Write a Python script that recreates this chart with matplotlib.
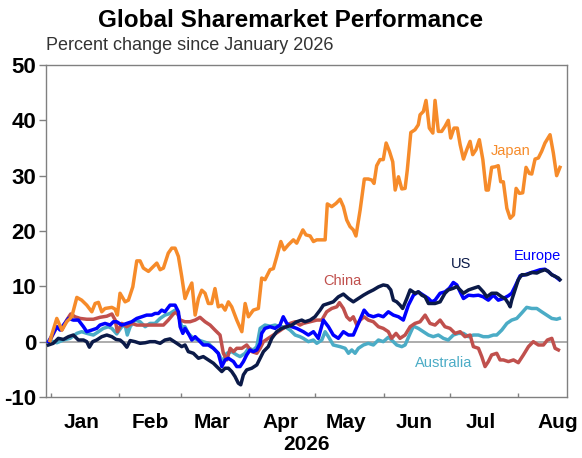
import matplotlib
matplotlib.use("Agg")
import matplotlib.pyplot as plt
import pandas as pd
import numpy as np

# ---------------- data (days since 1 Jan 2026, percent change) ----------------
japan_days = [-0.5, 2.6, 4.9, 7.1, 9.4, 11.7, 13.9, 16.2, 18.5, 20, 21.5, 23, 24.5, 27.6, 29, 30.1,
              31.3, 33.6, 35.1, 37.1, 38.9, 40.4, 41.9, 44.2, 45.7, 48, 49.5, 51, 53.2, 54.8, 56.3,
              57.8, 59.3, 60.8, 62.3, 63.9, 65.4, 66.9, 68.4, 69.9, 71.4, 72.9, 74.4, 75.9, 77.5,
              79, 80.5, 82, 84.3, 86.6, 88.1, 89.6, 91.8, 94.1, 95.6, 97.1, 99.4, 100.9, 102.4,
              104.3, 105.8, 107.7, 110, 111.5, 114.3, 115.7, 117.6, 119.1, 120.6, 124.4, 125.4,
              127.4, 129.4, 131.2, 132.7, 134.2, 135.7, 137.2, 138.4, 140.3, 142.2, 144, 145.6,
              146.6, 147.8, 149.3, 150.8, 152.1, 153.6, 155.1, 156.2, 157.7, 159.2, 160.7, 161.7,
              163.3, 165.2, 166.7, 167.5, 169, 170.2, 171.7, 173.3, 174.3, 175.8, 177.3, 178.8,
              180.3, 181.4, 182.9, 184.4, 185.7, 187.2, 188.7, 190.2, 191.4, 192.9, 194.4, 196,
              197.5, 198.5, 200, 201.5, 203, 204.1, 205.3, 206.9, 208.4, 209.9, 211.1, 212.6,
              214.1, 215.6, 217.1, 218.2, 219.7, 221.2, 222.7, 224.2, 226.5, 228, 229.5, 231]
japan_vals = [0.2, 4.2, 2.1, 3.6, 4.5, 8.0, 7.5, 6.6, 5.4, 6.9, 7.1, 5.4, 6.0, 6.2, 5.9, 4.8,
              8.75, 7.2, 7.5, 9.9, 14.6, 14.6, 13.3, 12.7, 13.3, 14.2, 13.0, 13.3, 16.0, 16.9, 16.9,
              15.4, 11.8, 7.8, 9.3, 10.6, 4.8, 7.8, 9.3, 8.75, 6.9, 6.9, 9.6, 6.3, 6.6,
              5.7, 7.2, 6.3, 3.9, 1.8, 6.9, 4.5, 5.7, 6.0, 11.5, 11.2, 13.0, 13.2, 15.3,
              18.1, 16.6, 17.5, 18.4, 17.8, 20.2, 19.3, 19.1, 18.1, 18.4, 18.4, 24.9,
              24.4, 25.0, 25.75, 24.4, 22.0, 20.8, 20.2, 19.1, 23.8, 29.4, 29.4, 29.2,
              28.6, 31.8, 32.9, 32.9, 35.9, 34.4, 32.5, 27.4, 29.8, 27.6, 27.7, 31.0,
              37.8, 38.3, 39.2, 41.0, 41.6, 43.6, 38.6, 37.7, 43.6, 38.0, 38.0, 38.9,
              40.0, 36.8, 38.6, 38.6, 35.6, 33.0, 34.7, 36.2, 33.8, 34.7, 36.5, 32.9,
              27.4, 27.4, 31.5, 31.6, 31.8, 28.9, 28.9, 24.1, 22.3, 22.9, 27.7, 26.8,
              26.9, 31.5, 30.4, 30.3, 33.0, 33.2, 34.4, 35.9, 37.4, 34.1, 30.0, 31.5]

us_days = [-1.2, 1, 3.3, 5.6, 7.9, 10.1, 12.4, 14.7, 16.2, 17.4, 18.9, 20.7, 23, 25.3, 27.6, 29.5,
           31.3, 32.8, 34.4, 35.9, 38.1, 40.4, 42.7, 44.9, 47.2, 49.5, 51.7, 54, 57.1, 59.3, 60.8,
           62.3, 64.6, 66.9, 69.1, 71.4, 73.7, 75.2, 77.5, 79, 80.5, 82, 83.5, 85, 86.1, 87.3,
           88.8, 91.1, 93.4, 94.9, 96.4, 98.6, 100.2, 102.4, 104.7, 107, 109.3, 111.5, 113.8,
           115.3, 117.6, 119.8, 122.1, 123.6, 125.9, 128.1, 130.4, 132.7, 135, 137.2, 139.5,
           141.8, 144, 146.3, 148.6, 150.8, 152.7, 154.2, 155.4, 156.9, 158.4, 159.6, 161.5,
           163, 165.2, 166.7, 168.3, 169.8, 171.3, 174.3, 176.6, 178.8, 180.3, 182.6, 184.2,
           185.7, 187.2, 189.5, 191.7, 194, 196.2, 197.8, 200, 202.3, 204.6, 206.1, 207.6,
           208.4, 209.1, 210.6, 212.1, 213.7, 215.9, 218.2, 220.5, 222, 224.2, 225.7, 227.3,
           228.8, 230.3, 231]
us_vals = [-0.6, -0.3, 0.6, 0.4, 0.9, 1.2, 0.3, 0.3, 0.0, -1.0, 0.0, 0.3, 0.9, 1.2, 0.9, 0.4,
           0.3, -0.2, -1.0, 0.2, 0.0, -0.3, -0.2, 0.0, 0.0, -0.3, 0.3, 0.5, -0.3, -0.9, -0.6,
           -1.8, -2.1, -3.0, -2.7, -3.3, -3.9, -4.5, -5.4, -4.8, -4.8, -5.4, -6.3, -7.5, -7.8, -6.0,
           -5.1, -4.8, -4.2, -3.0, -1.8, -0.9, 0.6, 1.8, 2.4, 2.7, 3.0, 3.6, 3.9,
           3.6, 3.9, 4.5, 5.7, 6.6, 6.9, 7.2, 8.1, 8.6, 7.8, 7.2, 7.8,
           8.4, 8.9, 9.35, 9.9, 10.25, 10.1, 9.35, 7.5, 7.2, 6.6, 6.0, 7.8,
           9.35, 8.75, 9.0, 8.4, 8.1, 6.9, 6.9, 7.2, 8.75, 9.35, 9.65, 9.95,
           9.35, 8.75, 9.35, 9.65, 9.95, 9.0, 8.1, 8.75, 8.75, 8.1, 7.8, 6.9,
           6.3, 7.5, 9.35, 11.2, 12.1, 12.1, 12.5, 12.4, 12.7, 13.0, 12.7, 12.1,
           11.8, 11.5, 11.2]

europe_days = [-1.2, 1, 2.6, 4.1, 5.6, 7.9, 10.1, 12.4, 14.7, 16.2, 18.5, 20.7, 22.2, 24.5, 26.8,
               28.3, 29.8, 32.1, 34.4, 36.6, 38.9, 41.2, 43.4, 45.7, 47.2, 48.7, 50.2, 51.7, 54,
               56.3, 57.8, 58.6, 59.8, 60.8, 62.3, 63.9, 65.4, 66.9, 69.1, 71.4, 73.7, 75.9, 77.5,
               79, 80.5, 82.8, 84.3, 85.8, 87.3, 88.8, 90.3, 91.8, 93.4, 94.9, 95.6, 97.1, 99.4,
               101.7, 103.9, 105.4, 107, 109.3, 111.5, 113, 114.5, 116.8, 119.1, 121.3, 123.6,
               125.9, 128.1, 130.4, 132.7, 135, 137.2, 139.5, 142.1, 144, 146.3, 148.6, 150.8,
               153.1, 155.4, 157.7, 159.9, 162.2, 164.5, 166.7, 169, 171.3, 172.8, 174.3, 176.6,
               178.8, 180.8, 182.6, 184.2, 185.7, 187.2, 189.5, 191.7, 194, 196.2, 198.5, 200.8,
               203, 205.3, 207.6, 209.1, 210.6, 212.9, 215.2, 217.4, 219.7, 222, 224.2, 225.7,
               227.3, 228.8, 230.7]
europe_vals = [0.0, 1.5, 2.7, 2.1, 3.0, 4.2, 3.9, 3.9, 2.7, 1.8, 2.1, 2.4, 3.0, 3.3, 3.0,
               3.6, 3.6, 3.0, 3.3, 3.6, 4.2, 4.5, 4.8, 4.8, 5.1, 5.1, 5.7, 5.4, 6.6,
               6.6, 5.4, 2.7, 1.5, 2.4, 1.5, 0.3, 0.9, 0.3, -0.6, -0.6, -1.2, -2.1, -4.5,
               -3.3, -3.0, -3.6, -4.5, -4.5, -3.6, -2.4, -1.5, -1.8, -1.5, -0.3, 1.5, 2.4, 2.7,
               2.4, 3.0, 4.5, 3.3, 2.7, 2.4, 2.1, 1.8, 1.2, 1.8, 0.6, 3.9,
               2.7, 1.2, 0.6, 1.8, 1.2, 1.2, 3.3, 5.7, 4.8, 4.5, 4.8, 4.5,
               5.4, 4.8, 4.5, 3.9, 6.6, 8.4, 9.0, 8.4, 7.8, 7.2, 7.5, 8.75,
               9.0, 9.65, 10.7, 10.25, 9.0, 7.8, 8.4, 8.3, 8.4, 8.1, 7.5, 8.4,
               7.5, 7.8, 8.3, 8.75, 9.95, 11.9, 12.1, 12.4, 12.7, 13.0, 13.1, 12.7,
               12.1, 11.8, 11.2]

china_days = [-0.5, 2.6, 4.9, 7.1, 8.9, 10.9, 13.2, 16.2, 19.2, 22.2, 25.3, 27.6, 29.1, 30.1, 32.1,
              34.4, 36.6, 38.9, 41.9, 44.9, 48, 51, 53.2, 55.5, 57.1, 58.6, 60.8, 63.1, 65.4, 67.6,
              69.9, 72.2, 74.4, 76.7, 78.2, 79.8, 81.3, 82.8, 84.3, 86.6, 88.8, 91.1, 93.4, 94.9,
              96.4, 98.6, 100.9, 103.2, 105.4, 108.5, 110.8, 113, 114.5, 117.6, 120.6, 122.9,
              125.1, 127.4, 129.7, 130.9, 132.7, 134.2, 135.7, 137.2, 138.8, 140.3, 142.1, 144,
              146.3, 148.6, 150.8, 153.1, 154.6, 156.6, 158.4, 160.7, 163, 165.2, 167.5, 169.8,
              172, 174.3, 176.6, 178.8, 181.1, 183.4, 185.7, 187.9, 190.2, 191.7, 194, 195.5, 197,
              198.5, 200, 202.3, 203.8, 205.3, 207.6, 209.9, 212.1, 214.4, 216.7, 218.9, 221.2,
              223.5, 225.3, 227.3, 228.8, 230.3]
china_vals = [0.2, 2.7, 2.1, 3.9, 5.0, 4.5, 4.2, 4.05, 4.05, 4.4, 4.6, 5.0, 3.9, 1.8, 3.3,
              2.7, 3.3, 3.0, 3.0, 3.0, 3.0, 3.0, 3.9, 5.0, 5.4, 3.9, 3.6, 3.6, 3.9, 4.4,
              3.6, 3.0, 2.1, 1.2, -2.1, -3.3, -1.2, -1.8, -1.2, -1.2, -0.6, -1.8, -2.1, -1.2,
              0.0, 0.6, 1.2, 1.8, 2.4, 3.3, 3.6, 3.0, 3.3, 3.6, 3.9, 3.9,
              5.4, 6.0, 6.3, 7.05, 6.0, 4.5, 3.9, 4.5, 3.0, 3.9, 4.5, 3.9,
              3.6, 2.7, 2.4, 1.8, 0.6, 1.5, 0.6, 1.2, 2.7, 3.3, 3.6, 4.8,
              3.3, 3.0, 3.9, 2.7, 2.4, 1.5, 1.8, 0.9, 1.2, -0.9, -1.2, -2.7, -4.5,
              -3.6, -2.4, -2.1, -3.3, -3.3, -3.6, -3.3, -3.8, -2.4, -0.9, 0.0, -0.6,
              -0.6, 0.3, 0.6, -1.2, -1.5]

aus_days = [-0.5, 2.6, 5.6, 8.6, 11.7, 13.9, 16.2, 19.2, 21.5, 23.7, 26, 27.6, 29.8, 32.1, 33.6,
            34.6, 35.9, 38.1, 40.4, 42.7, 44.9, 47.2, 49.5, 51.7, 54, 56.3, 57.8, 59.3, 60.8, 62.3,
            64.6, 66.9, 69.1, 71.4, 73.7, 75.9, 77.9, 79.8, 82, 84.3, 85.8, 88.1, 89.6, 91.8, 93.4,
            94.9, 97.1, 99.4, 101.7, 103.9, 106.2, 108.5, 110.8, 113, 114.5, 116.8, 119.1, 120.6,
            122.9, 124.4, 125.9, 128.1, 131.2, 133.5, 135, 136.5, 138, 139.5, 141.8, 144, 146.3,
            148.6, 150.8, 153.1, 154.6, 156.9, 159.2, 160.7, 163, 164.5, 166.7, 169, 171.3, 173.5,
            175.8, 178.1, 180.3, 182.6, 184.9, 187.2, 189.5, 191.7, 194, 196.2, 198.5, 200.8,
            202.3, 204.6, 206.9, 209.1, 211.4, 213.7, 215.9, 218.2, 220.5, 222.7, 225, 227.3,
            229.5, 230.7]
aus_vals = [0.2, -0.2, 0.3, 0.6, 1.5, 1.8, 1.5, 1.2, 1.8, 2.4, 2.7, 2.4, 1.4, 2.7, 3.0,
            1.2, 2.7, 3.9, 3.6, 2.7, 3.3, 3.3, 4.2, 4.8, 5.1, 5.7, 4.8, 2.7, 2.7, 1.5,
            0.6, 0.3, 0.0, -0.3, -1.2, -2.1, -3.6, -2.1, -1.8, -2.4, -2.7, -2.1, -1.2, -1.5, -0.9,
            2.4, 3.0, 2.8, 3.0, 2.7, 2.7, 2.1, 1.2, 0.9, 0.6, 0.0, 0.3, -0.3,
            0.3, 1.8, 0.9, -0.6, -0.9, -1.2, -2.1, -1.5, -2.1, -1.2, -0.6, -0.3, -0.6,
            0.3, 0.0, 0.8, 0.3, -0.6, -0.9, -0.6, 1.5, 2.8, 2.4, 1.8, 1.2, 0.9,
            1.2, 0.6, 0.3, 1.2, 1.5, 1.5, 0.9, 1.2, 1.2, 0.9, 0.9, 1.2,
            1.2, 2.1, 3.3, 3.9, 4.2, 5.2, 6.2, 6.0, 6.0, 5.4, 4.8, 4.2,
            4.05, 4.2]

month_labels = ["Jan", "Feb", "Mar", "Apr", "May", "Jun", "Jul", "Aug"]
y_ticks = [-10, 0, 10, 20, 30, 40, 50]

# ---------------- plotting ----------------
plt.rcParams['font.family'] = ['Liberation Sans', 'DejaVu Sans']
base = pd.Timestamp("2026-01-01")

def to_dates(days):
    return base + pd.to_timedelta(np.asarray(days, dtype=float), unit="D")

fig = plt.figure(figsize=(5.82, 4.58), dpi=100)
ax = fig.add_axes([46/582, 1-397/458, (567-46)/582, (397-65)/458])

ax.axhline(0, color="#A6A6A6", lw=1.3, zorder=1)

series = [
    ("Australia", aus_days, aus_vals, "#4BACC6"),
    ("China", china_days, china_vals, "#C0504D"),
    ("Europe", europe_days, europe_vals, "#0000FF"),
    ("US", us_days, us_vals, "#0B1A48"),
    ("Japan", japan_days, japan_vals, "#F68B2A"),
]
for i, (name, d, v, c) in enumerate(series):
    ax.plot(to_dates(d), v, color=c, lw=2.5, solid_joinstyle="round", zorder=2 + i)

# series labels
lab_pos = {
    "Japan": (208.4, 34.5),
    "Europe": (220.8, 15.5),
    "US": (186.1, 14.0),
    "China": (132.1, 11.0),
    "Australia": (178.4, -3.8),
}
for name, d, v, c in series:
    dx, vy = lab_pos[name]
    ax.text(base + pd.Timedelta(days=dx), vy, name, color=c, fontsize=10.5,
            ha="center", va="center")

ax.set_ylim(-10, 50)
ax.set_xlim(base + pd.Timedelta(days=-2.3), base + pd.Timedelta(days=234.2))
ax.set_yticks(y_ticks)
ax.set_yticklabels([str(t) for t in y_ticks], fontsize=16, fontweight="bold")

month_starts = [pd.Timestamp(2026, m, 1) for m in range(1, 9)]
label_pos = [pd.Timestamp(2026, m, 15) for m in range(1, 8)] + [pd.Timestamp(2026, 8, 19)]
ax.set_xticks(month_starts)
ax.set_xticklabels([""] * len(month_starts))
ax.set_xticks(label_pos, minor=True)
ax.set_xticklabels(month_labels, minor=True, fontsize=15, fontweight="bold")
ax.tick_params(axis="x", which="major", direction="in", length=3, color="#808080", width=1)
ax.tick_params(axis="x", which="minor", length=0, pad=11.5)
ax.tick_params(axis="y", direction="out", length=5, color="#808080", width=1, pad=2)
ax.set_xlabel("2026", fontsize=15, fontweight="bold", labelpad=2)

for s in ax.spines.values():
    s.set_color("#808080")
    s.set_linewidth(1.0)

fig.text(0.5, 1 - 27/458, "Global Sharemarket Performance", ha="center", va="baseline",
         fontsize=17.5, fontweight="bold")
fig.text(46/582, 1 - 50/458, "Percent change since January 2026", ha="left", va="baseline",
         fontsize=13, color="#333333")

fig.savefig("out.png", dpi=100)
